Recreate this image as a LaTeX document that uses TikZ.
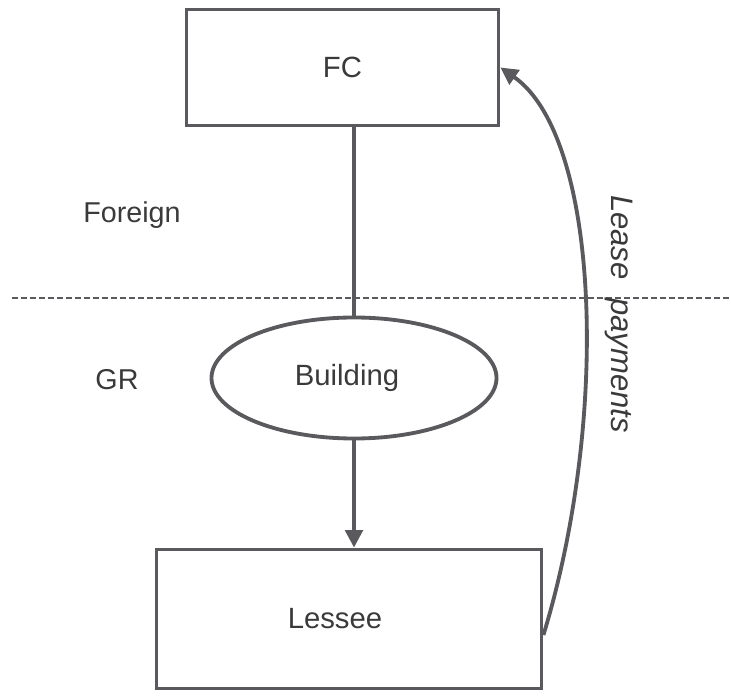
\documentclass[tikz,border=0pt]{standalone}
\usepackage{fontspec}
\setmainfont{Liberation Sans}
\usetikzlibrary{shapes.geometric,arrows.meta}
\definecolor{linegray}{HTML}{5A5A5E}
\definecolor{textgray}{HTML}{3A3A3A}
\begin{document}
\begin{tikzpicture}[
  x=0.03cm, y=0.03cm,
  party/.style={rectangle, draw=linegray, line width=0.115cm, font=\fontsize{25}{29}\selectfont, text=textgray},
  asset/.style={ellipse, draw=linegray, line width=0.115cm, minimum width=8.55cm, minimum height=3.63cm, font=\fontsize{25}{29}\selectfont, text=textgray},
  label/.style={font=\fontsize{24.5}{29}\selectfont, text=textgray},
  flow/.style={draw=linegray, line width=0.115cm, -{Triangle[length=0.52cm,width=0.52cm]}}
]
\useasboundingbox (0,0) rectangle (731,697);

% Parties and asset
\node[party, minimum width=9.36cm, minimum height=3.48cm] (fc) at (342.5,629.5) {FC};
\node[party, minimum width=11.55cm, minimum height=4.17cm] (lessee) at (349,78) {Lessee\kern0.84cm};
\node[asset] (building) at (354,319) {Building\kern0.42cm};

% Border between jurisdictions
\coordinate (borderW) at (12,399);
\coordinate (borderE) at (731,399);
\draw[linegray, line width=0.045cm, dash pattern=on 0.18cm off 0.09cm] (borderW) -- (borderE);
\node[label] (foreign) at (132,482) {Foreign};
\node[label] (gr) at (117,317) {GR};

% Ownership and lease
\draw[linegray, line width=0.115cm] (building.north |- fc.south) -- (building.north);
\draw[flow] (building.south) -- (building.south |- lessee.north);
\draw[flow] ([yshift=-0.48cm]lessee.east) .. controls (610,280) and (600,560) .. (fc.east);
\node[label, font=\fontsize{26.5}{31}\selectfont\itshape, rotate=-90] (payments) at (619,383) {Lease\hspace{0.6em}payments};
\end{tikzpicture}
\end{document}
